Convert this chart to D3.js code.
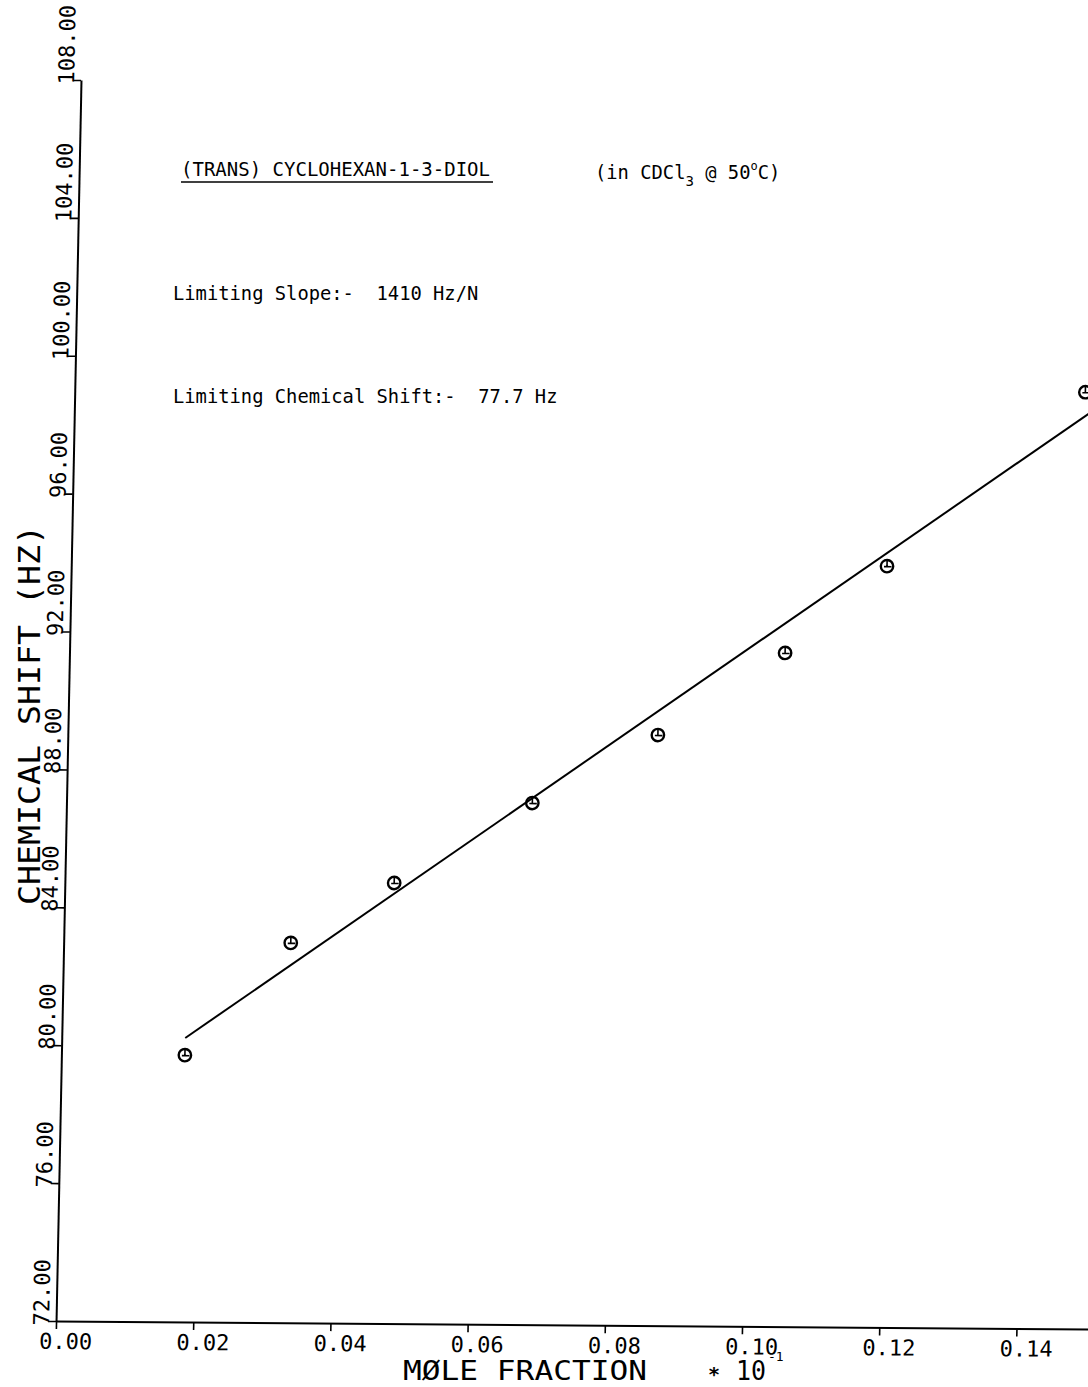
<!DOCTYPE html>
<html>
<head>
<meta charset="utf-8">
<script src="https://cdn.jsdelivr.net/npm/d3@7"></script>
<style>
  html, body { margin: 0; padding: 0; background: #fff; }
  svg { display: block; }
</style>
</head>
<body>
<div id="chart"></div>
<script>
// Mole fraction (×10^-1) of the diol and observed OH chemical shift (Hz)
const moleFraction = [0.0180, 0.0331, 0.0480, 0.0679, 0.0860, 0.1043, 0.1189, 0.1473];
const chemShift    = [79.74, 83.02, 84.78, 87.13, 89.13, 91.54, 94.08, 99.17];

// Axis ticks
const xTicks = [0.00, 0.02, 0.04, 0.06, 0.08, 0.10, 0.12, 0.14];
const yTicks = [72, 76, 80, 84, 88, 92, 96, 100, 104, 108];

// Limiting-slope fit: shift = limitShift + limitSlope * N  (N = axis value × 10^-1)
const limitSlope = 1410;   // Hz/N
const limitShift = 77.7;   // Hz
const axisFactor = 0.1;
const fitRange = [moleFraction[0], 0.156];

const W = 1088, H = 1387;
const plotW = 1097.6, plotH = 1241;   // 0.16 along x, 72–108 along y

const svg = d3.select("#chart").append("svg")
  .attr("width", W).attr("height", H)
  .attr("viewBox", `0 0 ${W} ${H}`);

svg.append("rect").attr("width", W).attr("height", H).attr("fill", "#fff");

const x = d3.scaleLinear().domain([0, 0.16]).range([0, plotW]);
const y = d3.scaleLinear().domain([72, 108]).range([plotH, 0]);

// plotter frame: axes are very slightly skewed on the sheet
const plot = svg.append("g")
  .attr("transform", "matrix(1,0.00775,-0.0201,1,81,80)");

const tickFont = "'DejaVu Sans Mono', monospace";

// x axis
const gx = plot.append("g")
  .attr("transform", `translate(0,${plotH})`)
  .call(d3.axisBottom(x).tickValues(xTicks).tickSize(8).tickSizeOuter(0)
        .tickFormat(d3.format(".2f")));
gx.attr("font-family", tickFont).attr("font-size", 22);
gx.select(".domain").attr("stroke", "#000").attr("stroke-width", 2);
gx.selectAll(".tick line").attr("stroke", "#000").attr("stroke-width", 1.6);
gx.selectAll(".tick text")
  .attr("fill", "#000")
  .attr("text-anchor", "start")
  .attr("x", -17).attr("y", 28).attr("dy", null);

// y axis with labels running up the page
const gy = plot.append("g")
  .call(d3.axisLeft(y).tickValues(yTicks).tickSize(8).tickSizeOuter(0)
        .tickFormat(d3.format(".2f")));
gy.attr("font-family", tickFont).attr("font-size", 22);
gy.select(".domain").attr("stroke", "#000").attr("stroke-width", 2);
gy.selectAll(".tick line").attr("stroke", "#000").attr("stroke-width", 1.6);
gy.selectAll(".tick text")
  .attr("fill", "#000")
  .attr("text-anchor", "start")
  .attr("transform", "rotate(-90)")
  .attr("x", -4).attr("y", -7).attr("dy", null);

// limiting-slope line
const fitLine = d3.line()
  .x(d => x(d))
  .y(d => y(limitShift + limitSlope * axisFactor * d));
plot.append("path")
  .datum(fitRange)
  .attr("d", fitLine)
  .attr("fill", "none")
  .attr("stroke", "#000")
  .attr("stroke-width", 2);

// measured points
const pts = plot.selectAll("g.pt")
  .data(moleFraction.map((m, i) => ({ m, s: chemShift[i] })))
  .join("g")
  .attr("class", "pt")
  .attr("transform", d => `translate(${x(d.m)},${y(d.s)})`);
pts.append("circle")
  .attr("r", 6.2)
  .attr("fill", "none")
  .attr("stroke", "#000")
  .attr("stroke-width", 2.4);
pts.append("path")
  .attr("d", "M-3,0.5H4.5M0,-6V0.5")
  .attr("fill", "none")
  .attr("stroke", "#000")
  .attr("stroke-width", 1.6);

// axis titles
svg.append("text")
  .attr("transform", "translate(40,715) rotate(-90)")
  .attr("text-anchor", "middle")
  .attr("font-family", tickFont)
  .attr("font-size", 31)
  .attr("textLength", 380)
  .attr("lengthAdjust", "spacingAndGlyphs")
  .attr("fill", "#000")
  .text("CHEMICAL SHIFT (HZ)");

svg.append("text")
  .attr("x", 403).attr("y", 1380)
  .attr("font-family", tickFont)
  .attr("font-size", 27)
  .attr("textLength", 244)
  .attr("lengthAdjust", "spacingAndGlyphs")
  .attr("fill", "#000")
  .text("MØLE FRACTION");

svg.append("text")
  .attr("x", 708).attr("y", 1381)
  .attr("font-family", tickFont)
  .attr("font-size", 20)
  .attr("font-weight", "bold")
  .attr("fill", "#000")
  .text("*");

svg.append("text")
  .attr("x", 736).attr("y", 1380)
  .attr("font-family", tickFont)
  .attr("font-size", 27)
  .attr("textLength", 30)
  .attr("lengthAdjust", "spacingAndGlyphs")
  .attr("fill", "#000")
  .text("10");

svg.append("text")
  .attr("x", 768).attr("y", 1361)
  .attr("font-family", tickFont)
  .attr("font-size", 13)
  .attr("fill", "#000")
  .text("-1");

// annotations
const noteFont = "'DejaVu Sans Mono', monospace";
svg.append("text")
  .attr("x", 181).attr("y", 176)
  .attr("font-family", noteFont)
  .attr("font-size", 18.8)
  .attr("textLength", 309)
  .attr("lengthAdjust", "spacingAndGlyphs")
  .attr("fill", "#000")
  .text("(TRANS) CYCLOHEXAN-1-3-DIOL");
svg.append("line")
  .attr("x1", 181).attr("x2", 493)
  .attr("y1", 182).attr("y2", 182)
  .attr("stroke", "#000").attr("stroke-width", 1.6);

const cond = svg.append("text")
  .attr("x", 595).attr("y", 179)
  .attr("font-family", noteFont)
  .attr("font-size", 18.8)
  .attr("fill", "#000");
cond.append("tspan").text("(in CDCl");
cond.append("tspan").attr("font-size", 14).attr("dy", 7).text("3");
cond.append("tspan").attr("dy", -7).text(" @ 50");
cond.append("tspan").attr("font-size", 12).attr("dy", -9).text("o");
cond.append("tspan").attr("dy", 9).text("C)");

svg.append("text")
  .attr("x", 173).attr("y", 300)
  .attr("font-family", noteFont)
  .attr("font-size", 18.8)
  .attr("fill", "#000")
  .style("white-space", "pre")
  .text(`Limiting Slope:-  ${limitSlope} Hz/N`);

svg.append("text")
  .attr("x", 173).attr("y", 403)
  .attr("font-family", noteFont)
  .attr("font-size", 18.8)
  .attr("fill", "#000")
  .style("white-space", "pre")
  .text(`Limiting Chemical Shift:-  ${limitShift} Hz`);
</script>
</body>
</html>
